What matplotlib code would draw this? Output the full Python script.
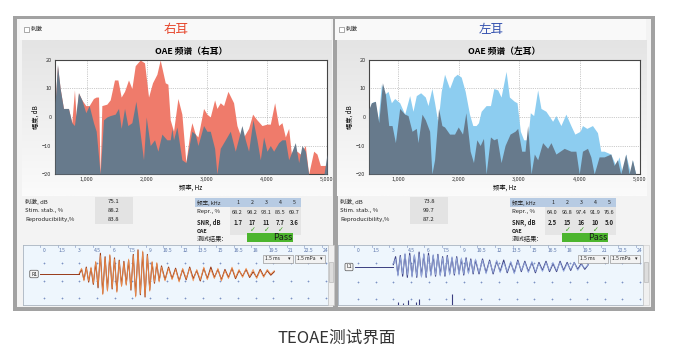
import numpy as np
import matplotlib
matplotlib.use("Agg")
import matplotlib.pyplot as plt
from matplotlib.patches import Rectangle
import matplotlib.transforms as mtrans

plt.rcParams['font.family'] = ['Noto Sans CJK SC', 'DejaVu Sans']

# ---------------- data ----------------
# right ear spectrum (signal = red, noise = slate)
r_sig_f = [472, 511, 556, 611, 694, 750, 794, 822, 861, 917, 983, 1039, 1111, 1156, 1195, 1222,
           1250, 1333, 1389, 1461, 1517, 1572, 1628, 1694, 1750, 1806, 1889, 1961, 2028, 2094,
           2167, 2222, 2306, 2350, 2389, 2444, 2517, 2583, 2650, 2720, 2750, 2806, 2850, 2889,
           2944, 3000, 3056, 3128, 3167, 3222, 3278, 3350, 3444, 3500, 3583, 3694, 3761, 3833,
           3917, 4000, 4056, 4128, 4194, 4250, 4306, 4361, 4417, 4500, 4556, 4639, 4694, 4778,
           4833, 4889, 4944, 5000]
r_sig_db = [5, 18, 10, 3, 3, -2, 9.5, 0, 8.5, 6, 4, 4, 6.5, 7, 7, -20,
            4, 4.5, 6, 13, 13, 7, 9, 13, 10, 18, 20, 19, 7, 12,
            15, 20, 12, 11.5, -1, -5, 6.5, 1, -16, -5, -2, -6, -7, -3,
            3, 1, 0, 6, 3, 5, 4, 9, 5, -3, -8, -4, 1, -1,
            -3, -2.5, -2.5, 5, -3, -2, -7, -4, -15, -12, -13, -10, -20, -12,
            -13, -17, -17, -17]
r_noise_f = [472, 511, 556, 611, 694, 750, 794, 861, 917, 983, 1039, 1111, 1156, 1222, 1278,
             1333, 1389, 1472, 1528, 1572, 1628, 1683, 1750, 1817, 1872, 1944, 1989, 2056,
             2128, 2183, 2250, 2333, 2389, 2417, 2444, 2500, 2583, 2650, 2750, 2806, 2850,
             2944, 3000, 3056, 3128, 3167, 3222, 3306, 3389, 3472, 3583, 3639, 3694, 3767,
             3833, 3889, 3944, 4000, 4056, 4111, 4194, 4250, 4306, 4361, 4417, 4472, 4528,
             4583, 4639, 4694, 4900, 4950, 5000]
r_noise_db = [5, 18.5, 10, 3, 3, -2, -3, 8.5, 6, 1.5, 4, -2, -5, -20, -1,
              0, 0.5, 1, 3, -4, 3, -3, -2, 5.5, -3, -15, 0, -10,
              -8, -12, -6, -8, -8, -4, -8, -3.5, -15, -16, -5, -6, -10,
              -3, -5, -5, -11, -20, -11, -8, -5, -12, -3, -8, -12, -1,
              -8, -15, -7, -12, -10, -12, -9, -8, -8, -15, -12, -9, -16,
              -10, -12, -20, -20, -20, -13]

# left ear spectrum (signal = blue, noise = slate)
l_sig_f = [522, 560, 615, 670, 725, 780, 835, 890, 945, 1027, 1110, 1192, 1247, 1302, 1374,
           1451, 1495, 1560, 1604, 1659, 1714, 1769, 1852, 1923, 1978, 2044, 2110, 2181, 2236,
           2291, 2330, 2374, 2456, 2528, 2583, 2648, 2703, 2786, 2841, 2923, 2967, 3022, 3077,
           3143, 3187, 3242, 3308, 3363, 3445, 3555, 3610, 3692, 3775, 3857, 3923, 4011, 4049,
           4121, 4214, 4297, 4352, 4407, 4517, 4599, 4654, 4709, 4764, 4846, 4874, 4929, 4984]
l_sig_db = [2, 5, 5.5, -1, 11.5, 8, 9, 5, 6.5, 5, 1, 7.5, 2, 7.5, 8.5,
            7, 4, 10, 5, -2, 9, 15, 10, 14, 15, 14, 9, 1, -3,
            -3, -2, 2, 4, 4, 10, 9.5, 7, 16, 7, 5.5, 5, -5, -8,
            -8, 1.5, 0.5, 9.5, 3, 2, -1.5, 0.5, -3, 1, -3, -6, -5, -3,
            -4, -3, -5.5, -12, -12, -13, -17, -14, -20, -13, -20, -15, -20, -20]
l_noise_f = [522, 560, 626, 681, 742, 791, 846, 901, 956, 1027, 1110, 1165, 1231, 1302, 1330,
             1396, 1451, 1522, 1560, 1604, 1670, 1725, 1769, 1852, 1934, 1995, 2066, 2121, 2192,
             2247, 2302, 2357, 2412, 2456, 2528, 2583, 2637, 2703, 2769, 2852, 2934, 2978, 3044,
             3099, 3143, 3198, 3253, 3308, 3390, 3473, 3528, 3610, 3747, 3857, 3940, 3995, 4049,
             4132, 4187, 4242, 4324, 4407, 4517, 4572, 4626, 4681, 4764, 4819, 4874, 4929]
l_noise_db = [3, 5, 5.5, -2, 12, 8, -3, -3, -9, 3, 1, 0.5, -5, -4, -9,
              1, -1, -5, -20, -15, 3, -3, -3.5, -6, -6, -3.5, -6, 1.5, -12,
              -16, -8, -10, -7.5, -20, -7, -8, -7.5, -16, -10, -6, -5, -4, -12,
              -12, -3, -20, -13, -15, -9, -11, -9, -13, -11, -12, -12, -20, -12,
              -11, -14, -20, -14, -14, -13, -17, -15, -20, -13, -20, -15, -20]

# measurement tables
stats_labels = ['刺激, dB', 'Stim. stab., %', 'Reproducibility,%']
r_stats = ['75.1', '88.2', '83.8']
l_stats = ['73.8', '99.7', '87.2']
bands = ['1', '2', '3', '4', '5']
r_repr = ['68.2', '98.2', '93.1', '85.5', '69.7']
r_snr = ['1.7', '17', '11', '7.7', '3.6']
r_oae = [False, True, True, True, False]
l_repr = ['64.0', '96.8', '97.4', '91.9', '76.6']
l_snr = ['2.5', '15', '16', '10', '5.0']
l_oae = [False, True, True, True, False]

# waveforms (ms, relative pressure)
wave_t = list(np.round(np.arange(3.0, 10.01, 0.2), 2)) + list(np.round(np.arange(10.3, 19.61, 0.3), 2))
r_wave_a = [0.0, 0.2, -0.25, 0.3, -0.35, 0.25, -0.45, 0.5, -0.6, 0.9,
            -0.85, 0.75, -0.7, 0.8, -0.65, 0.7, -0.75, 0.6, -0.5, 0.55,
            -0.45, 0.6, -0.7, 0.85, -0.95, 1.05, -0.9, 0.95, -1.0, 0.85,
            -0.7, 0.5, -0.4, 0.45, -0.3, 0.35,
            -0.25, 0.3, -0.2, 0.25, -0.3, 0.2, -0.25, 0.3, -0.2, 0.15,
            -0.3, 0.25, -0.2, 0.3, -0.15, 0.2, -0.25, 0.2, -0.15, 0.25,
            -0.2, 0.15, -0.1, 0.2, -0.15, 0.1, -0.15, 0.2, -0.1, 0.15, -0.05, 0.1]
r_wave_b = [0.05, 0.25, -0.3, 0.25, -0.3, 0.3, -0.4, 0.55, -0.5, 0.8,
            -0.9, 0.7, -0.75, 0.85, -0.6, 0.65, -0.8, 0.55, -0.55, 0.5,
            -0.5, 0.65, -0.65, 0.8, -1.0, 1.0, -0.85, 1.0, -0.95, 0.8,
            -0.75, 0.55, -0.35, 0.5, -0.35, 0.3,
            -0.3, 0.25, -0.25, 0.2, -0.35, 0.25, -0.2, 0.25, -0.3, 0.2,
            -0.25, 0.3, -0.25, 0.2, -0.2, 0.25, -0.3, 0.15, -0.2, 0.3,
            -0.15, 0.2, -0.15, 0.25, -0.1, 0.2, -0.2, 0.15, -0.15, 0.2, 0.0, 0.15]
l_wave_a = [0.1, 0.45, -0.35, 0.5, -0.4, 0.55, -0.45, 0.6, -0.4, 0.5,
            -0.45, 0.65, -0.4, 0.55, -0.45, 0.6, -0.35, 0.5, -0.4, 0.55,
            -0.35, 0.45, -0.4, 0.5, -0.3, 0.4, -0.35, 0.45, -0.3, 0.35,
            -0.35, 0.4, -0.25, 0.35, -0.3, 0.3,
            -0.3, 0.35, -0.25, 0.3, -0.3, 0.25, -0.2, 0.3, -0.25, 0.2,
            -0.25, 0.3, -0.2, 0.25, -0.2, 0.2, -0.25, 0.2, -0.15, 0.25,
            -0.2, 0.15, -0.2, 0.25, -0.15, 0.2, -0.15, 0.2, -0.1, 0.15, -0.1, 0.1]
l_wave_b = [0.15, 0.35, -0.4, 0.45, -0.3, 0.6, -0.35, 0.5, -0.45, 0.55,
            -0.4, 0.55, -0.45, 0.6, -0.4, 0.5, -0.4, 0.55, -0.35, 0.5,
            -0.4, 0.4, -0.35, 0.45, -0.35, 0.45, -0.3, 0.4, -0.35, 0.4,
            -0.3, 0.35, -0.3, 0.3, -0.25, 0.35,
            -0.25, 0.3, -0.3, 0.25, -0.25, 0.3, -0.25, 0.2, -0.2, 0.25,
            -0.3, 0.25, -0.15, 0.2, -0.25, 0.25, -0.2, 0.15, -0.2, 0.2,
            -0.15, 0.2, -0.15, 0.2, -0.2, 0.15, -0.1, 0.2, -0.15, 0.1, -0.05, 0.1]
l_spike_t = [3.4, 3.85, 4.25, 4.9, 5.2, 8.0]
l_spike_h = [0.12, 0.1, 0.2, 0.15, 0.25, 0.5]
ms_ticks = [0, 1.5, 3, 4.5, 6, 7.5, 9, 10.5, 12, 13.5, 15, 16.5, 18, 19.5, 21, 22.5, 24]

# ---------------- layout helpers (pixel coords, y from top) ----------------
W, H = 675, 360
fig = plt.figure(figsize=(6.75, 3.6), dpi=100)
fig.patch.set_facecolor('white')


def fbox(x0, y0, x1, y1):
    return [x0 / W, 1 - y1 / H, (x1 - x0) / W, (y1 - y0) / H]


def rect(x0, y0, x1, y1, fc, ec='none', lw=0.5, z=0):
    fig.add_artist(Rectangle((x0 / W, 1 - y1 / H), (x1 - x0) / W, (y1 - y0) / H,
                             transform=fig.transFigure, fc=fc, ec=ec, lw=lw, zorder=z))


def txt(x, y, s, **kw):
    kw.setdefault('va', 'center')
    kw.setdefault('fontsize', 4.3)
    kw.setdefault('color', '#222222')
    fig.text(x / W, 1 - y / H, s, **kw)


# outer frame
rect(13, 16, 655, 311, '#a2a2a2')
rect(17, 19, 651, 307, '#f3f3f3')
rect(333, 19, 338, 307, '#a2a2a2')

grad = np.linspace(0, 1, 100).reshape(-1, 1)
gcmap = matplotlib.colors.LinearSegmentedColormap.from_list('g', ['#e4e4e4', '#fbfbfb'])


def draw_panel(dx, ear_title, title_color, ax_box, f_sig, db_sig, f_noise, db_noise,
               sig_color, xmin, chart_title, stats, repr_v, snr_v, oae_v,
               wave_a, wave_b, col_a, col_b, tag, w_center, zero_px, rows_px):
    # header strip
    rect(20 + dx, 19, 331 + dx, 40, '#f9f9f9')
    rect(24 + dx, 27, 29 + dx, 32, 'white', ec='#888888', lw=0.5, z=2)
    txt(31 + dx, 29.5, '刺激', fontsize=4.3)
    txt(176 + dx, 30, ear_title, fontsize=9, color=title_color, ha='center')

    # gradient chart background
    bg = fig.add_axes(fbox(22 + dx, 40, 332 + dx, 196))
    bg.imshow(grad, aspect='auto', cmap=gcmap, extent=(0, 1, 0, 1))
    bg.axis('off')

    ax = fig.add_axes(fbox(*ax_box))
    ax.set_facecolor('white')
    ax.fill_between(f_sig, db_sig, -20, color=sig_color, lw=0, zorder=2)
    ax.fill_between(f_noise, db_noise, -20, color='#677a8c', lw=0, zorder=3)
    ax.set_xlim(xmin, 5000)
    ax.set_ylim(-20, 20)
    ax.set_xticks([1000, 2000, 3000, 4000, 5000])
    ax.set_xticklabels(['1,000', '2,000', '3,000', '4,000', '5,000'])
    ax.set_yticks([-20, -10, 0, 10, 20])
    ax.tick_params(labelsize=4, length=0, pad=2.5, colors='#333333')
    ax.grid(True, ls=':', color='#9a9a9a', lw=0.5)
    ax.set_axisbelow(True)
    for sp in ax.spines.values():
        sp.set_color('#454545')
        sp.set_linewidth(0.8)
    ax.set_title(chart_title, fontsize=6.3, fontweight='bold', pad=4.5)
    ax.set_xlabel('频率, Hz', fontsize=4.5, labelpad=1)
    ax.set_ylabel('幅度, dB', fontsize=4.5, labelpad=2)

    # stats table
    row_edges = [197, 206, 215, 224]
    rect(95 + dx, 197, 133 + dx, 224, '#e3e3e3')
    for i in range(3):
        rect(23 + dx, row_edges[i + 1] - 0.4, 133 + dx, row_edges[i + 1] + 0.4, '#d6d6d6', z=1)
        y = (row_edges[i] + row_edges[i + 1]) / 2
        txt(25 + dx, y, stats_labels[i])
        txt(114 + dx, y, stats[i], ha='center')

    # band table
    cols = [230, 245, 259, 273, 287, 301]
    rect(195 + dx, 198, 301 + dx, 207, '#b7cbe3')
    rect(230 + dx, 207, 301 + dx, 235, '#e5e5e5')
    for e in [207, 217, 228]:
        rect(195 + dx, e - 0.3, 301 + dx, e + 0.3, '#d0d0d0', z=1)
    for c in cols[1:-1]:
        rect(c + dx - 0.3, 198, c + dx + 0.3, 235, '#f5f5f5', z=1)
    txt(197 + dx, 202.5, '频率, kHz', fontsize=4)
    txt(197 + dx, 212, 'Repr., %')
    txt(197 + dx, 222.5, 'SNR, dB', fontweight='bold')
    txt(197 + dx, 231, 'OAE', fontsize=3.8, fontweight='bold')
    txt(197 + dx, 239, '测试结果:', fontsize=4.6)
    for j in range(5):
        cx = (cols[j] + cols[j + 1]) / 2 + dx
        txt(cx, 202.5, bands[j], ha='center', fontsize=3.8)
        txt(cx, 212, repr_v[j], ha='center', fontsize=4)
        txt(cx, 222.5, snr_v[j], ha='center', fontweight='bold')
        if oae_v[j]:
            txt(cx + 1, 230, '✓', ha='center', fontsize=5, color='#3aa61e',
                family=['DejaVu Sans'])
    rect(247 + dx, 233, 293 + dx, 242, '#4cb52e', z=2)
    txt(283 + dx, 237.5, 'Pass', ha='center', fontsize=6.5, color='#1a1a1a', zorder=3)

    # waveform panel
    wx0, wx1 = 23 + dx, 328 + dx
    wa = fig.add_axes(fbox(wx0, 245, wx1, 305))
    wa.set_facecolor('#eef6fd')
    scale = 23.0
    px_per_ms = 11.75
    wa.set_xlim((wx0 - zero_px) / px_per_ms, (wx1 - zero_px) / px_per_ms)
    wa.set_ylim(-(305 - w_center) / scale, (w_center - 245) / scale)
    for sp in wa.spines.values():
        sp.set_color('#a9b4c0')
        sp.set_linewidth(0.6)
    wa.set_xticks([])
    wa.set_yticks([])
    for ry in rows_px:
        wa.plot(ms_ticks, [(w_center - ry) / scale] * len(ms_ticks), ls='none', marker='+',
                ms=2, mew=0.5, color='#7d93c4')
    tr = mtrans.blended_transform_factory(wa.transData, wa.transAxes)
    for t in ms_ticks:
        wa.text(t, 0.915, '%g' % t, transform=tr, ha='center', va='center', fontsize=3.6,
                color='#5a74aa')
        wa.plot([t - 0.35, t - 0.35], [0.97, 1.0], transform=tr, color='#8ea0c8', lw=0.5)
    lead_t = [(40 + dx - zero_px) / px_per_ms, wave_t[0]]
    wa.plot(lead_t, [0, 0], color=col_a, lw=0.7)
    wa.plot(wave_t, wave_a, color=col_a, lw=0.8)
    wa.plot(wave_t, wave_b, color=col_b, lw=0.6, alpha=0.9)
    txt(34 + dx, w_center, tag, ha='center', fontsize=3.6,
        bbox=dict(boxstyle='round,pad=0.25', fc='#f4f4f4', ec='#555555', lw=0.5))
    # dropdowns
    for (a, b, s) in [(263, 293, '1.5 ms'), (295, 325, '1.5 mPa')]:
        rect(a + dx, 255, b + dx, 263, '#f2f2f2', ec='#9a9a9a', lw=0.5, z=3)
        txt(a + dx + 2, 259, s, fontsize=3.6, zorder=4)
        txt(b + dx - 4, 259, '▾', fontsize=3.6, ha='center', zorder=4,
            family=['DejaVu Sans'])
    # scrollbar
    rect(wx1, 245, wx1 + 6, 305, '#f0f0f0', ec='#c8c8c8', lw=0.4, z=3)
    rect(wx1 + 1, 262, wx1 + 5, 282, '#dddddd', ec='#b0b0b0', lw=0.4, z=4)
    return wa


draw_panel(0, '右耳', '#e6452b', (55, 60, 327, 174), r_sig_f, r_sig_db, r_noise_f,
           r_noise_db, '#ef7b6b', 470, 'OAE 频谱（右耳）', r_stats, r_repr, r_snr, r_oae,
           r_wave_a, r_wave_b, '#983a18', '#f3924f', 'R1', 274, 44, [263, 281, 298])

wl = draw_panel(315, '左耳', '#3553b0', (369, 60, 640, 174), l_sig_f, l_sig_db, l_noise_f,
                l_noise_db, '#8dcdf0', 520, 'OAE 频谱（左耳）', l_stats, l_repr, l_snr, l_oae,
                l_wave_a, l_wave_b, '#3b3f80', '#9db2e6', 'L1', 267, 358, [263, 282, 299])
ybot = wl.get_ylim()[0]
wl.vlines(l_spike_t, ybot, [ybot + h for h in l_spike_h], color='#3b3f80', lw=0.8)

# caption
txt(337, 338, 'TEOAE测试界面', ha='center', fontsize=12, color='#333333', fontweight='light')

fig.savefig('out.png', dpi=100)
